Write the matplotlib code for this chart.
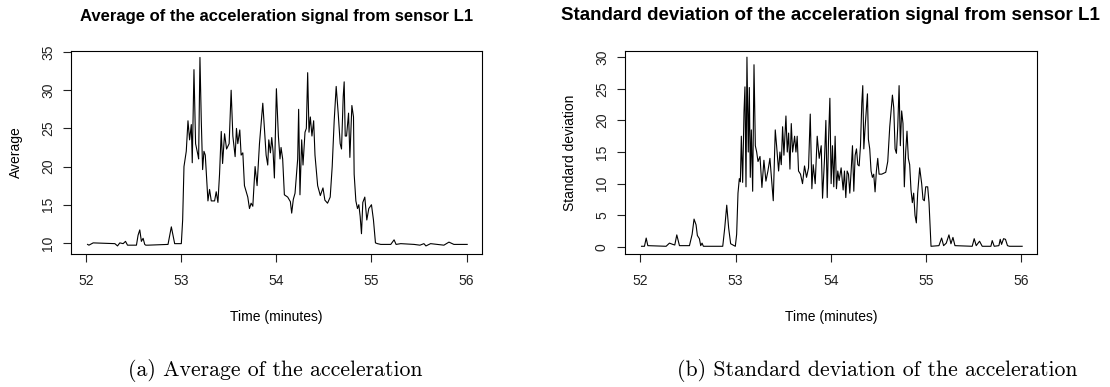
import matplotlib
matplotlib.use("Agg")
import matplotlib.pyplot as plt

# average of the acceleration signal (time in minutes, value)
avg_time = [
    52.014, 52.028, 52.073, 52.301, 52.329, 52.353, 52.388, 52.413, 52.434, 52.528,
    52.545, 52.563, 52.580, 52.598, 52.615, 52.626, 52.650, 52.860, 52.895, 52.930,
    53.000, 53.014, 53.028, 53.052, 53.070, 53.087, 53.105, 53.115, 53.133, 53.150,
    53.175, 53.182, 53.196, 53.210, 53.224, 53.238, 53.252, 53.280, 53.297, 53.315,
    53.350, 53.367, 53.385, 53.402, 53.420, 53.434, 53.455, 53.476, 53.503, 53.524,
    53.542, 53.566, 53.580, 53.594, 53.615, 53.629, 53.647, 53.664, 53.699, 53.717,
    53.734, 53.752, 53.776, 53.797, 53.822, 53.857, 53.874, 53.892, 53.909, 53.920,
    53.937, 53.951, 53.965, 53.979, 54.000, 54.021, 54.038, 54.049, 54.066, 54.084,
    54.119, 54.147, 54.161, 54.178, 54.196, 54.224, 54.234, 54.248, 54.266, 54.280,
    54.301, 54.315, 54.329, 54.343, 54.357, 54.374, 54.392, 54.406, 54.434, 54.462,
    54.490, 54.510, 54.538, 54.566, 54.587, 54.608, 54.629, 54.650, 54.671, 54.685,
    54.703, 54.713, 54.724, 54.738, 54.759, 54.773, 54.794, 54.811, 54.818, 54.836,
    54.853, 54.867, 54.881, 54.895, 54.909, 54.930, 54.951, 54.972, 55.000, 55.021,
    55.042, 55.063, 55.098, 55.203, 55.238, 55.259, 55.308, 55.448, 55.510, 55.552,
    55.573, 55.622, 55.762, 55.815, 55.867, 56.007,
]
avg_value = [
    9.8, 9.7, 10.0, 9.9, 9.6, 10.0, 9.9, 10.2, 9.7, 9.7,
    11.0, 11.7, 10.2, 10.6, 9.8, 9.7, 9.7, 9.8, 12.1, 9.9,
    9.9, 13.0, 20.0, 22.0, 26.0, 23.5, 25.5, 20.5, 32.7, 23.0,
    21.5, 21.0, 34.3, 26.0, 19.6, 22.0, 21.5, 15.5, 17.0, 15.5,
    15.5, 16.7, 15.3, 19.0, 24.6, 20.4, 24.3, 22.3, 23.0, 30.0,
    24.0, 21.3, 25.0, 23.0, 24.8, 21.5, 21.8, 17.5, 16.0, 14.5,
    15.2, 14.8, 20.0, 17.5, 23.0, 28.3, 25.0, 21.5, 20.2, 23.5,
    21.8, 23.8, 22.0, 18.5, 30.2, 24.0, 21.0, 22.5, 21.0, 16.3,
    16.0, 15.4, 13.9, 15.7, 16.5, 21.0, 27.5, 16.3, 23.5, 20.2,
    24.5, 25.0, 32.3, 24.5, 26.5, 24.0, 26.0, 21.5, 17.5, 16.2,
    17.2, 15.6, 15.2, 16.0, 20.0, 26.0, 30.5, 27.0, 23.0, 22.3,
    29.2, 31.1, 24.0, 24.0, 27.0, 21.2, 28.0, 26.5, 19.0, 15.5,
    14.5, 15.0, 13.5, 11.2, 15.3, 16.0, 13.0, 14.5, 15.0, 13.0,
    10.0, 9.9, 9.8, 9.8, 10.4, 9.8, 9.9, 9.8, 9.7, 9.9,
    9.6, 9.9, 9.7, 10.1, 9.8, 9.8,
]

# standard deviation of the acceleration signal
std_time = [
    52.014, 52.045, 52.063, 52.080, 52.272, 52.307, 52.342, 52.363, 52.384, 52.412,
    52.517, 52.545, 52.565, 52.586, 52.600, 52.621, 52.635, 52.649, 52.663, 52.866,
    52.887, 52.908, 52.928, 52.949, 52.998, 53.012, 53.026, 53.040, 53.051, 53.061,
    53.075, 53.089, 53.099, 53.110, 53.120, 53.134, 53.145, 53.155, 53.166, 53.180,
    53.194, 53.208, 53.222, 53.236, 53.257, 53.277, 53.298, 53.319, 53.340, 53.361,
    53.382, 53.396, 53.417, 53.431, 53.452, 53.466, 53.480, 53.494, 53.508, 53.529,
    53.543, 53.557, 53.571, 53.585, 53.599, 53.620, 53.634, 53.647, 53.661, 53.682,
    53.703, 53.724, 53.745, 53.766, 53.784, 53.801, 53.815, 53.836, 53.857, 53.878,
    53.899, 53.913, 53.934, 53.948, 53.962, 53.976, 53.990, 54.003, 54.017, 54.031,
    54.045, 54.059, 54.073, 54.087, 54.108, 54.129, 54.143, 54.157, 54.171, 54.185,
    54.199, 54.213, 54.227, 54.241, 54.255, 54.269, 54.283, 54.297, 54.311, 54.325,
    54.335, 54.346, 54.360, 54.374, 54.384, 54.394, 54.408, 54.422, 54.436, 54.450,
    54.464, 54.478, 54.492, 54.506, 54.534, 54.576, 54.597, 54.618, 54.646, 54.660,
    54.674, 54.688, 54.702, 54.716, 54.729, 54.743, 54.757, 54.771, 54.785, 54.799,
    54.813, 54.827, 54.841, 54.855, 54.869, 54.883, 54.897, 54.911, 54.932, 54.953,
    54.967, 54.981, 54.995, 55.016, 55.030, 55.051, 55.134, 55.162, 55.183, 55.211,
    55.239, 55.260, 55.281, 55.302, 55.483, 55.504, 55.525, 55.560, 55.588, 55.679,
    55.693, 55.714, 55.763, 55.777, 55.791, 55.812, 55.832, 55.853, 55.874, 56.007,
]
std_value = [
    0.1, 0.1, 1.4, 0.2, 0.1, 0.6, 0.4, 0.3, 1.9, 0.2,
    0.2, 2.0, 4.4, 3.5, 1.8, 1.3, 0.2, 0.6, 0.1, 0.1,
    3.0, 6.6, 3.0, 0.5, 0.1, 2.0, 8.5, 10.8, 10.3, 17.5,
    10.2, 21.3, 25.3, 9.5, 30.0, 15.0, 25.2, 11.0, 18.5, 8.8,
    28.8, 16.0, 15.0, 13.5, 14.3, 9.4, 13.7, 10.4, 12.0, 14.0,
    10.0, 7.3, 18.5, 16.0, 12.0, 15.0, 13.0, 19.0, 14.5, 20.7,
    15.0, 18.0, 12.3, 19.5, 15.0, 17.5, 15.0, 17.5, 12.0, 11.5,
    10.0, 12.8, 11.0, 12.5, 21.0, 9.2, 13.0, 10.0, 17.5, 14.0,
    16.0, 7.7, 14.0, 20.0, 7.8, 17.0, 23.5, 10.0, 16.0, 9.5,
    17.5, 9.2, 12.0, 10.5, 12.5, 9.0, 12.0, 7.8, 12.0, 11.5,
    8.5, 12.0, 16.0, 8.8, 14.5, 15.5, 13.0, 12.8, 16.0, 22.8,
    25.5, 15.5, 19.0, 22.0, 24.2, 17.0, 15.5, 12.0, 11.0, 11.5,
    8.7, 12.0, 14.0, 11.5, 11.5, 11.8, 13.5, 19.0, 24.0, 22.0,
    15.5, 14.8, 19.0, 25.5, 16.0, 21.5, 19.5, 9.5, 15.0, 18.3,
    14.0, 13.0, 9.0, 7.0, 8.5, 5.0, 3.8, 8.5, 12.5, 10.0,
    7.5, 7.3, 9.5, 9.5, 7.0, 0.1, 0.2, 1.4, 0.2, 0.6,
    1.9, 0.5, 1.5, 0.2, 0.1, 1.3, 0.2, 0.9, 0.1, 0.1,
    1.0, 0.1, 0.2, 1.2, 0.4, 1.3, 1.2, 0.2, 0.1, 0.1,
]

x_ticks = [52, 53, 54, 55, 56]
avg_ticks = [10, 15, 20, 25, 30, 35]
std_ticks = [0, 5, 10, 15, 20, 25, 30]

plt.rcParams["font.family"] = ["Liberation Sans", "DejaVu Sans"]

fig = plt.figure(figsize=(11.1, 3.87), dpi=100)
ax1 = fig.add_axes([0.064, 0.344, 0.370, 0.524])
ax2 = fig.add_axes([0.563, 0.344, 0.371, 0.524])

# axes, data, y ticks, y limits, y label, title, title size, caption, caption x (px)
panels = [
    (ax1, avg_time, avg_value, avg_ticks, (8.56, 35.13), "Average",
     "Average of the acceleration signal from sensor L1", 12,
     "(a) Average of the acceleration", 275),
    (ax2, std_time, std_value, std_ticks, (-1.1, 30.96), "Standard deviation",
     "Standard deviation of the acceleration signal from sensor L1", 13.5,
     "(b) Standard deviation of the acceleration", 877),
]

for ax, t, v, yt, ylim, ylab, title, tsize, caption, cap_x in panels:
    ax.plot(t, v, color="black", linewidth=0.8)
    ax.set_xlim(51.84, 56.16)
    ax.set_ylim(*ylim)
    ax.set_xticks(x_ticks)
    ax.set_yticks(yt)
    ax.tick_params(direction="out", length=5.5, width=0.8, labelsize=10, colors="#222222")
    ax.tick_params(axis="x", pad=9)
    ax.tick_params(axis="y", pad=6)
    for lab in ax.get_yticklabels():
        lab.set_rotation(90)
        lab.set_va("center")
    for sp in ax.spines.values():
        sp.set_linewidth(0.8)
    ax.set_xlabel("Time (minutes)", fontsize=10, labelpad=16)
    ax.set_ylabel(ylab, fontsize=10, labelpad=13)

    pos = ax.get_position()
    cx = (pos.x0 + pos.x1) / 2
    fig.text(cx, 1 - 16 / 387, title, ha="center", va="center",
             fontsize=tsize, fontweight="bold")
    fig.text(cap_x / 1110, 1 - 371 / 387, caption, ha="center", va="center",
             fontsize=15.7, family="cmr10")

fig.savefig("out.png", dpi=100)
